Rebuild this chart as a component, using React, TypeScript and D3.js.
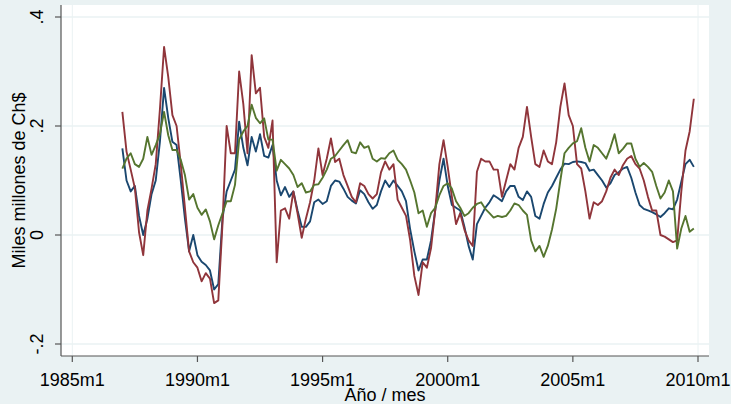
import React from "react";
import * as d3 from "d3";

// Monthly series sampled every 2 months, starting 1987m1
const START_MONTH = 24; // months since 1985m1
const STEP = 2;

const navySeries = [
  0.159, 0.10, 0.08, 0.09, 0.035, 0.0, 0.03, 0.075, 0.10, 0.171,
  0.27, 0.215, 0.171, 0.165, 0.10, 0.03, -0.03, 0.0, -0.037, -0.049,
  -0.055, -0.065, -0.10, -0.09, 0.03, 0.08, 0.10, 0.12, 0.208, 0.16,
  0.128, 0.18, 0.153, 0.185, 0.145, 0.142, 0.165, 0.10, 0.073, 0.088,
  0.07, 0.08, 0.045, 0.015, 0.015, 0.025, 0.06, 0.065, 0.057, 0.062,
  0.09, 0.10, 0.098, 0.085, 0.07, 0.063, 0.058, 0.082, 0.075, 0.06,
  0.048, 0.055, 0.08, 0.10, 0.088, 0.10, 0.09, 0.08, 0.062, 0.01,
  -0.03, -0.065, -0.045, -0.045, -0.01, 0.045, 0.10, 0.14, 0.09, 0.055,
  0.05, 0.045, 0.015, -0.02, -0.045, 0.02, 0.035, 0.05, 0.06, 0.073,
  0.068, 0.062, 0.08, 0.09, 0.09, 0.07, 0.064, 0.08, 0.07, 0.035,
  0.03, 0.057, 0.078, 0.09, 0.105, 0.12, 0.131, 0.13, 0.134, 0.135,
  0.134, 0.132, 0.118, 0.12, 0.11, 0.10, 0.087, 0.095, 0.11, 0.115,
  0.122, 0.125, 0.105, 0.078, 0.055, 0.048, 0.045, 0.042, 0.038, 0.033,
  0.04, 0.049, 0.047, 0.065, 0.098, 0.13, 0.138, 0.125,
];

const maroonSeries = [
  0.226, 0.153, 0.12, 0.086, 0.005, -0.037, 0.045, 0.085, 0.13, 0.23,
  0.345, 0.29, 0.22, 0.20, 0.13, 0.05, -0.03, -0.05, -0.06, -0.085,
  -0.07, -0.08, -0.125, -0.12, 0.02, 0.20, 0.15, 0.15, 0.30, 0.24,
  0.15, 0.33, 0.26, 0.27, 0.18, 0.16, 0.21, -0.05, 0.045, 0.049,
  0.03, 0.08, 0.04, -0.005, 0.03, 0.06, 0.10, 0.159, 0.11, 0.14,
  0.177, 0.134, 0.14, 0.11, 0.09, 0.07, 0.06, 0.095, 0.09, 0.075,
  0.067, 0.075, 0.115, 0.135, 0.12, 0.13, 0.065, 0.05, 0.035, -0.01,
  -0.075, -0.11, -0.05, -0.06, -0.024, 0.045, 0.13, 0.174, 0.125, 0.07,
  0.02, 0.04, 0.01, -0.01, -0.02, 0.116, 0.14, 0.135, 0.135, 0.12,
  0.12, 0.07, 0.10, 0.13, 0.12, 0.16, 0.18, 0.235, 0.18, 0.13,
  0.125, 0.155, 0.135, 0.13, 0.17, 0.235, 0.278, 0.22, 0.20, 0.13,
  0.122, 0.08, 0.03, 0.06, 0.055, 0.062, 0.08, 0.105, 0.12, 0.11,
  0.128, 0.14, 0.145, 0.13, 0.122, 0.10, 0.07, 0.045, 0.045, 0.0,
  -0.003, -0.008, -0.013, -0.01, 0.08, 0.155, 0.19, 0.25,
];

const greenSeries = [
  0.122, 0.14, 0.15, 0.13, 0.125, 0.14, 0.18, 0.147, 0.165, 0.185,
  0.226, 0.183, 0.156, 0.156, 0.138, 0.11, 0.065, 0.075, 0.05, 0.037,
  0.047, 0.025, -0.008, 0.018, 0.04, 0.062, 0.062, 0.092, 0.175, 0.19,
  0.20, 0.239, 0.215, 0.205, 0.214, 0.175, 0.175, 0.118, 0.138, 0.13,
  0.122, 0.11, 0.088, 0.095, 0.078, 0.08, 0.092, 0.093, 0.105, 0.12,
  0.14, 0.145, 0.155, 0.165, 0.174, 0.152, 0.15, 0.17, 0.16, 0.163,
  0.14, 0.135, 0.141, 0.14, 0.15, 0.155, 0.138, 0.13, 0.12, 0.10,
  0.078, 0.04, 0.045, 0.015, 0.04, 0.05, 0.073, 0.09, 0.095, 0.085,
  0.062, 0.05, 0.035, 0.04, 0.05, 0.057, 0.06, 0.048, 0.04, 0.032,
  0.035, 0.033, 0.035, 0.045, 0.058, 0.055, 0.045, 0.037, -0.01, -0.03,
  -0.02, -0.04, -0.02, 0.01, 0.048, 0.10, 0.15, 0.16, 0.168, 0.172,
  0.196, 0.16, 0.135, 0.165, 0.16, 0.15, 0.14, 0.16, 0.185, 0.15,
  0.158, 0.168, 0.168, 0.14, 0.125, 0.132, 0.125, 0.116, 0.09, 0.067,
  0.078, 0.10, 0.08, -0.025, 0.012, 0.035, 0.006, 0.012,
];

const yTicks = [-0.2, 0, 0.2, 0.4];
const yTickLabels = ["-.2", "0", ".2", ".4"];
const xTicks = [0, 60, 120, 180, 240, 300];
const xTickLabels = ["1985m1", "1990m1", "1995m1", "2000m1", "2005m1", "2010m1"];

const W = 731;
const H = 404;
const BG = "#eaf2f3";
const FONT = "'Liberation Sans', Arial, sans-serif";

const NAVY = "#1a476f";
const MAROON = "#90353b";
const GREEN = "#55752f";

const PLOT = { left: 61, right: 709, top: 5, bottom: 356 };

export default function App() {
  const x = d3.scaleLinear().domain([0, 300]).range([72.3, 698]);
  const y = d3.scaleLinear().domain([-0.2, 0.4]).range([344, 17]);

  const line = d3
    .line<number>()
    .x((_, i) => x(START_MONTH + i * STEP))
    .y((v) => y(v));

  const series = [
    { values: navySeries, color: NAVY },
    { values: maroonSeries, color: MAROON },
    { values: greenSeries, color: GREEN },
  ];

  return (
    <div style={{ position: "fixed", left: 0, top: 0 }}>
      <svg width={W} height={H} style={{ display: "block" }} fontFamily={FONT}>
        <rect x={0} y={0} width={W} height={H} fill={BG} />
        <rect
          x={PLOT.left}
          y={PLOT.top}
          width={PLOT.right - PLOT.left}
          height={PLOT.bottom - PLOT.top}
          fill="#fff"
        />

        {/* gridlines */}
        {yTicks.map((t) => (
          <line
            key={t}
            x1={PLOT.left}
            x2={PLOT.right}
            y1={y(t)}
            y2={y(t)}
            stroke={BG}
            strokeWidth={1.6}
          />
        ))}
        {[0, 300].map((m) => (
          <line
            key={m}
            x1={x(m)}
            x2={x(m)}
            y1={PLOT.top}
            y2={PLOT.bottom}
            stroke={BG}
            strokeWidth={1}
          />
        ))}

        {/* series */}
        {series.map((s, i) => (
          <path
            key={i}
            d={line(s.values) ?? ""}
            fill="none"
            stroke={s.color}
            strokeWidth={1.9}
            strokeLinejoin="round"
          />
        ))}

        {/* axes */}
        <line x1={PLOT.left} x2={PLOT.left} y1={PLOT.top} y2={PLOT.bottom} stroke="#555" strokeWidth={1.2} />
        <line x1={PLOT.left} x2={PLOT.right} y1={PLOT.bottom} y2={PLOT.bottom} stroke="#555" strokeWidth={1.2} />

        {yTicks.map((t, i) => (
          <g key={t}>
            <line x1={PLOT.left - 6} x2={PLOT.left} y1={y(t)} y2={y(t)} stroke="#555" strokeWidth={1.2} />
            <text
              transform={`translate(${43},${y(t)}) rotate(-90)`}
              textAnchor="middle"
              fontSize={18}
              fill="#000"
            >
              {yTickLabels[i]}
            </text>
          </g>
        ))}

        {xTicks.map((m, i) => (
          <g key={m}>
            <line x1={x(m)} x2={x(m)} y1={PLOT.bottom} y2={PLOT.bottom + 6} stroke="#555" strokeWidth={1.2} />
            <text x={x(m)} y={386} textAnchor="middle" fontSize={18} fill="#000">
              {xTickLabels[i]}
            </text>
          </g>
        ))}

        <text
          transform={`translate(${25},${180.5}) rotate(-90)`}
          textAnchor="middle"
          fontSize={18}
          fill="#000"
        >
          Miles millones de Ch$
        </text>
        <text x={385} y={401} textAnchor="middle" fontSize={18} fill="#000">
          Año / mes
        </text>
      </svg>
    </div>
  );
}
